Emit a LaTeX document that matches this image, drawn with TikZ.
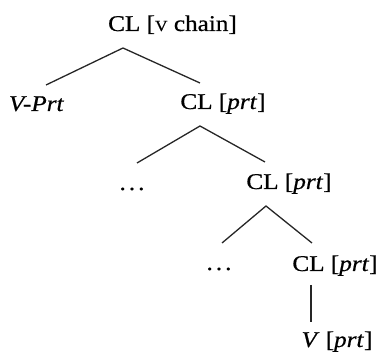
\documentclass[tikz,border=0pt]{standalone}
\usepackage{fontspec}
\setmainfont{Liberation Serif}[FakeStretch=1.12,FakeBold=0.6]
\begin{document}
\begin{tikzpicture}[x=1pt,y=-1pt,
  lbl/.style={anchor=base,inner sep=0pt,font=\fontsize{22.5}{24}\selectfont},
  branch/.style={line width=1.3pt,draw=black!85}]
\useasboundingbox (0,0) rectangle (381,352);
% labels
\node[lbl] (root) at (172.5,31) {CL [{\fontsize{15.5}{16}\selectfont V} chain]};
\node[lbl] (vprt) at (36.5,111) {\textit{V-Prt}};
\node[lbl] (cl1) at (223,109) {CL [\textit{prt}]};
\node[lbl] (dots1) at (132,190) {.\hspace{3pt}.\hspace{3pt}.};
\node[lbl] (cl2) at (289,189) {CL [\textit{prt}]};
\node[lbl] (dots2) at (219,270) {.\hspace{3pt}.\hspace{3pt}.};
\node[lbl] (cl3) at (335,271) {CL [\textit{prt}]};
\node[lbl] (v) at (337,347) {\textit{V} [\textit{prt}]};
% branch points
\coordinate (root-a) at (123,48);
\coordinate (vprt-t) at (46,85);
\coordinate (cl1-t) at (200,83);
\coordinate (cl1-a) at (200,126);
\coordinate (dots1-t) at (137,163);
\coordinate (cl2-t) at (265,162);
\coordinate (cl2-a) at (266,206);
\coordinate (dots2-t) at (222,243);
\coordinate (cl3-t) at (312,243);
\coordinate (cl3-a) at (311,285);
\coordinate (v-t) at (311,322);
% branches
\draw[branch] (vprt-t) -- (root-a) -- (cl1-t);
\draw[branch] (dots1-t) -- (cl1-a) -- (cl2-t);
\draw[branch] (dots2-t) -- (cl2-a) -- (cl3-t);
\draw[branch] (cl3-a) -- (v-t);
\end{tikzpicture}
\end{document}
